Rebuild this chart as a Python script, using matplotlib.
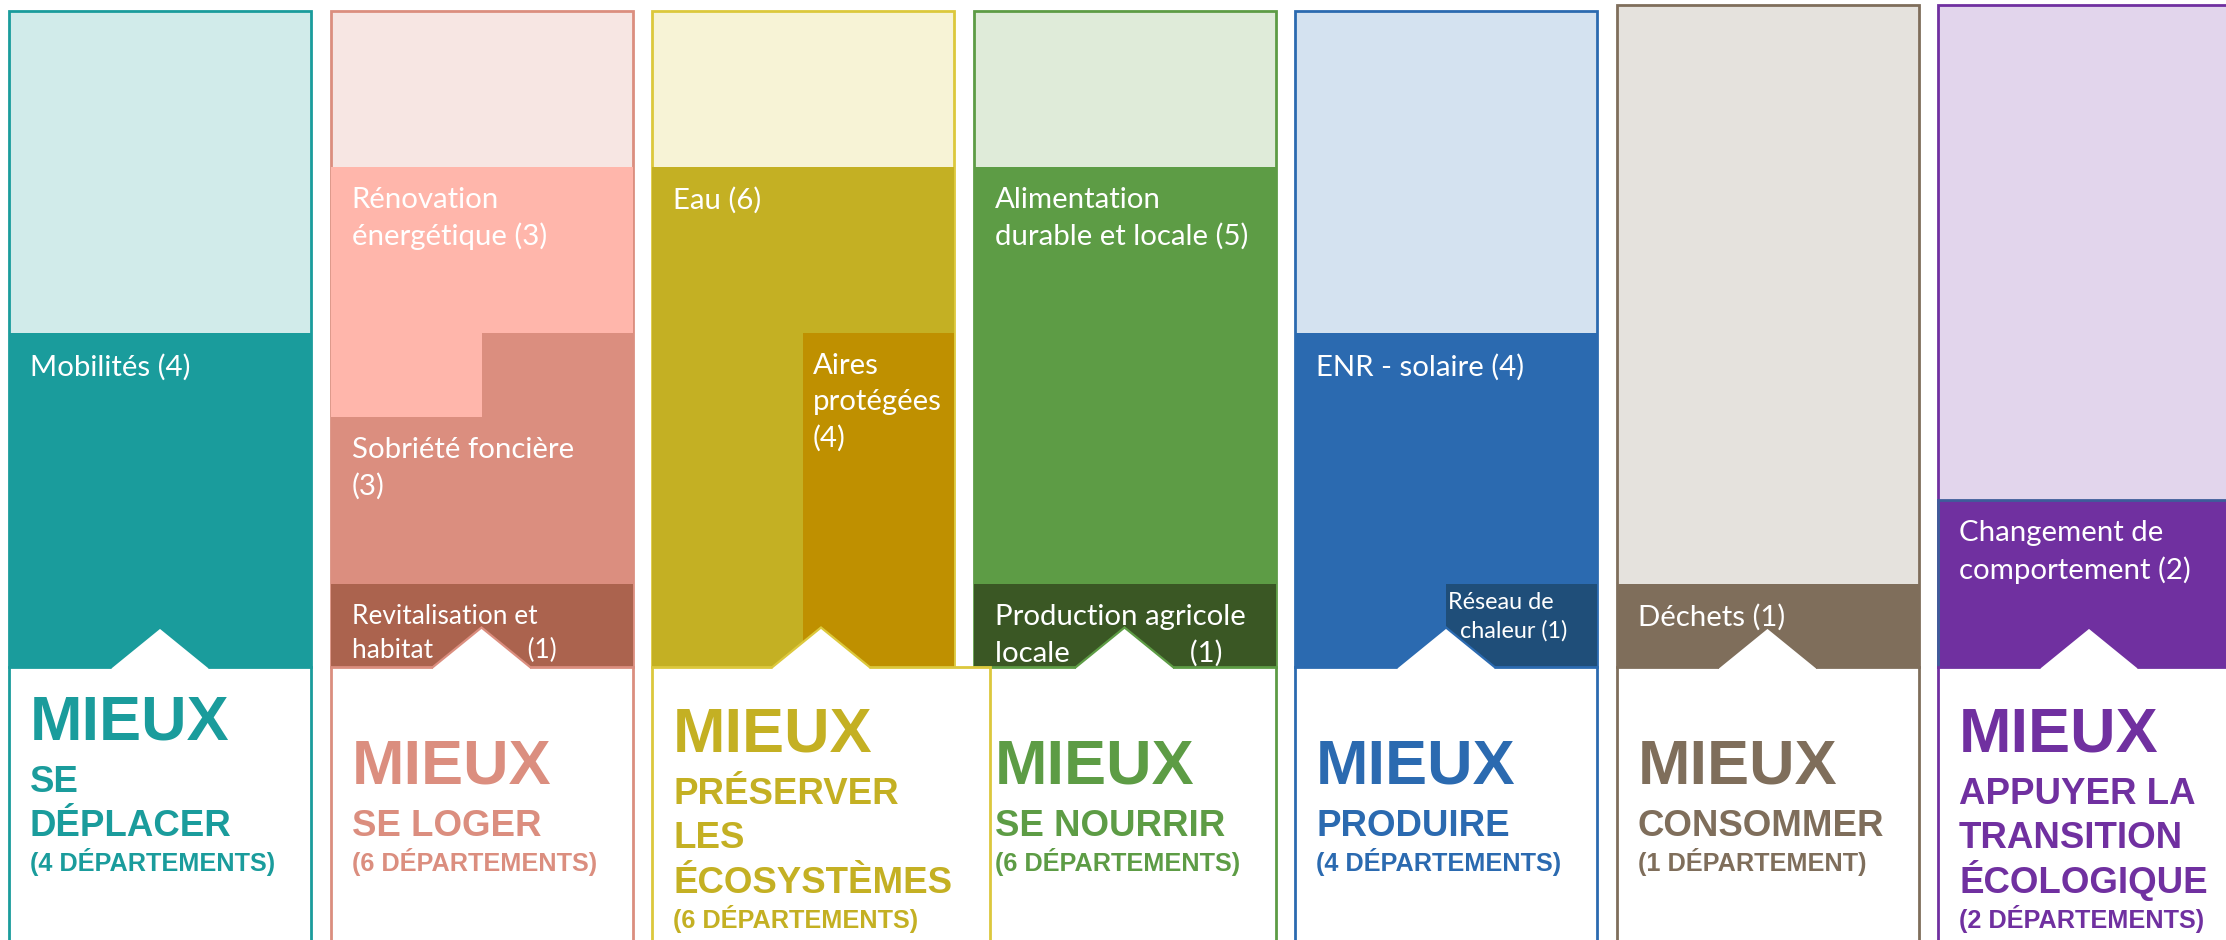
import matplotlib
matplotlib.use("Agg")
import matplotlib.pyplot as plt

# --- données ---
themes = ["SE\nDÉPLACER", "SE LOGER", "PRÉSERVER\nLES\nÉCOSYSTÈMES", "SE NOURRIR",
          "PRODUIRE", "CONSOMMER", "APPUYER LA\nTRANSITION\nÉCOLOGIQUE"]
departements = [4, 6, 6, 6, 4, 1, 2]

# actions empilées depuis le haut de la colonne (vers le bas)
actions_haut = [
    [("Mobilités", 4)],
    [("Rénovation\nénergétique", 3)],
    [("Eau", 6)],
    [("Alimentation\ndurable et locale", 5)],
    [("ENR - solaire", 4)],
    [("Déchets", 1)],
    [("Changement de\ncomportement", 2)],
]
# actions empilées depuis le bas (vers le haut)
actions_bas = [
    [],
    [("Revitalisation et\nhabitat", 1), ("Sobriété foncière", 3)],
    [("Aires\nprotégées", 4)],
    [("Production agricole\nlocale", 1)],
    [("Réseau de\nchaleur", 1)],
    [],
    [],
]

# --- couleurs ---
fonce = ["#1A9C9C", "#DB8E7F", "#C4B023", "#5D9C45", "#2B6AB0", "#7F6E5B", "#7030A0"]
clair = ["#D1EBEA", "#F7E6E3", "#F7F3D6", "#DFEBD9", "#D4E2F0", "#E5E2DD", "#E2D5EC"]
bordure = ["#1A9C9C", "#DB8E7F", "#DCC83C", "#5D9C45", "#2B6AB0", "#7F6E5B", "#7030A0"]
couleur_action = {
    "Mobilités": "#1A9C9C",
    "Rénovation\nénergétique": "#FFB6AB",
    "Sobriété foncière": "#DB8E7F",
    "Revitalisation et\nhabitat": "#AB634E",
    "Eau": "#C4B023",
    "Aires\nprotégées": "#BF9000",
    "Alimentation\ndurable et locale": "#5D9C45",
    "Production agricole\nlocale": "#3A5724",
    "ENR - solaire": "#2B6AB0",
    "Réseau de\nchaleur": "#1F4E79",
    "Déchets": "#7F6E5B",
    "Changement de\ncomportement": "#7030A0",
}

# mise en forme des étiquettes
gabarit = {
    "Sobriété foncière": "{nom}\n({k})",
    "Aires\nprotégées": "{nom}\n({k})",
    "Revitalisation et\nhabitat": "{nom}" + " " * 14 + "({k})",
    "Production agricole\nlocale": "{nom}" + " " * 16 + "({k})",
    "Réseau de\nchaleur": "Réseau de\n  chaleur ({k})",
}
taille_etiquette = {
    "Revitalisation et\nhabitat": 18.9,
    "Réseau de\nchaleur": 16.8,
}
decalage_etiquette = {"Réseau de\nchaleur": (2, 8)}  # px (x, y)

# --- géométrie (pixels) ---
PAS = 321.5       # px entre deux colonnes
UNITE = 83.4      # px par département
X0, Y0 = 160, 667
W, H = 2226, 940
LARG = 302 / PAS
haut_fond_px = [11, 11, 11, 11, 11, 5, 5]
mieux_px = [740, 784, 752, 784, 784, 784, 752]
boite_extra_px = [0, 0, 36, 0, 0, 0, 0]

fig = plt.figure(figsize=(W / 100, H / 100), dpi=100)
ax = fig.add_axes([0, 0, 1, 1])
ax.set_xlim(-X0 / PAS, (W - X0) / PAS)
ax.set_ylim((Y0 - H) / UNITE, Y0 / UNITE)
ax.axis("off")

bas_fig = (Y0 - H) / UNITE - 0.5


def etiquette(nom, k, x, y, z, dx_def=21):
    dx, dy = decalage_etiquette.get(nom, (dx_def, 20))
    texte = gabarit.get(nom, "{nom} ({k})").format(nom=nom, k=k)
    ax.text(x + dx / PAS, y - dy / UNITE, texte, color="white", va="top", ha="left",
            family="Lato", fontsize=taille_etiquette.get(nom, 21.2),
            linespacing=1.45, zorder=z)


for i in range(len(themes)):
    n = departements[i]
    gauche = i - LARG / 2
    ax.bar(i, (Y0 - haut_fond_px[i]) / UNITE, width=LARG, bottom=0, color=clair[i],
           edgecolor=bordure[i], linewidth=2, zorder=1)

    # actions du haut
    y = n
    for nom, k in actions_haut[i]:
        ec = "#3E5C9A" if nom.startswith("Changement") else "none"
        ax.bar(i, k, width=LARG, bottom=y - k, color=couleur_action[nom],
               edgecolor=ec, linewidth=2, zorder=2)
        etiquette(nom, k, gauche, y, 6)
        y -= k
    limite = y

    # actions du bas (partagent la colonne en deux en cas de recouvrement)
    y = 0
    for nom, k in actions_bas[i]:
        c = couleur_action[nom]
        b0, b1 = y, y + k
        plein = min(b1, limite) - b0
        if plein > 0:
            ax.bar(i, plein, width=LARG, bottom=b0, color=c, zorder=2)
        lo = max(b0, limite)
        if b1 > lo:
            ax.bar(i + LARG / 4, b1 - lo, width=LARG / 2, bottom=lo, color=c, zorder=2.1)
        if plein > 0:
            etiquette(nom, k, gauche, b0 + plein, 6)
        else:
            etiquette(nom, k, i, b1, 6, dx_def=10)
        y = b1

    # boîte blanche du titre
    larg_boite = LARG + boite_extra_px[i] / PAS
    cx = gauche + larg_boite / 2
    zb = 3.5 if boite_extra_px[i] else 3
    ax.bar(cx, -bas_fig, width=larg_boite, bottom=bas_fig, color="white",
           edgecolor=bordure[i], linewidth=2, zorder=zb)
    # chevron
    hw, hc = 48.5 / PAS, 39.5 / UNITE
    ax.fill([cx - hw, cx - hw, cx, cx + hw, cx + hw], [-0.04, 0, hc, 0, -0.04],
            color="white", zorder=zb + 0.2, lw=0)
    ax.plot([cx - hw, cx, cx + hw], [0, hc, 0], color=bordure[i], lw=1.6,
            zorder=zb + 0.3, solid_joinstyle="miter")

    # titres
    xt = gauche + 21 / PAS
    yt = (Y0 - mieux_px[i]) / UNITE
    police = dict(family="Liberation Sans", fontweight="bold", color=fonce[i],
                  va="baseline", ha="left", zorder=7)
    ax.text(xt, yt, "MIEUX", fontsize=45.4, **police)
    yt -= 52 / UNITE
    for ligne in themes[i].split("\n"):
        ax.text(xt, yt, ligne, fontsize=26.4, **police)
        yt -= 44.5 / UNITE
    yt += (44.5 - 35) / UNITE
    dep = f"({n} DÉPARTEMENT{'S' if n > 1 else ''})"
    ax.text(xt, yt, dep, fontsize=18.2, **police)

fig.savefig("out.png", dpi=100, facecolor="white")
